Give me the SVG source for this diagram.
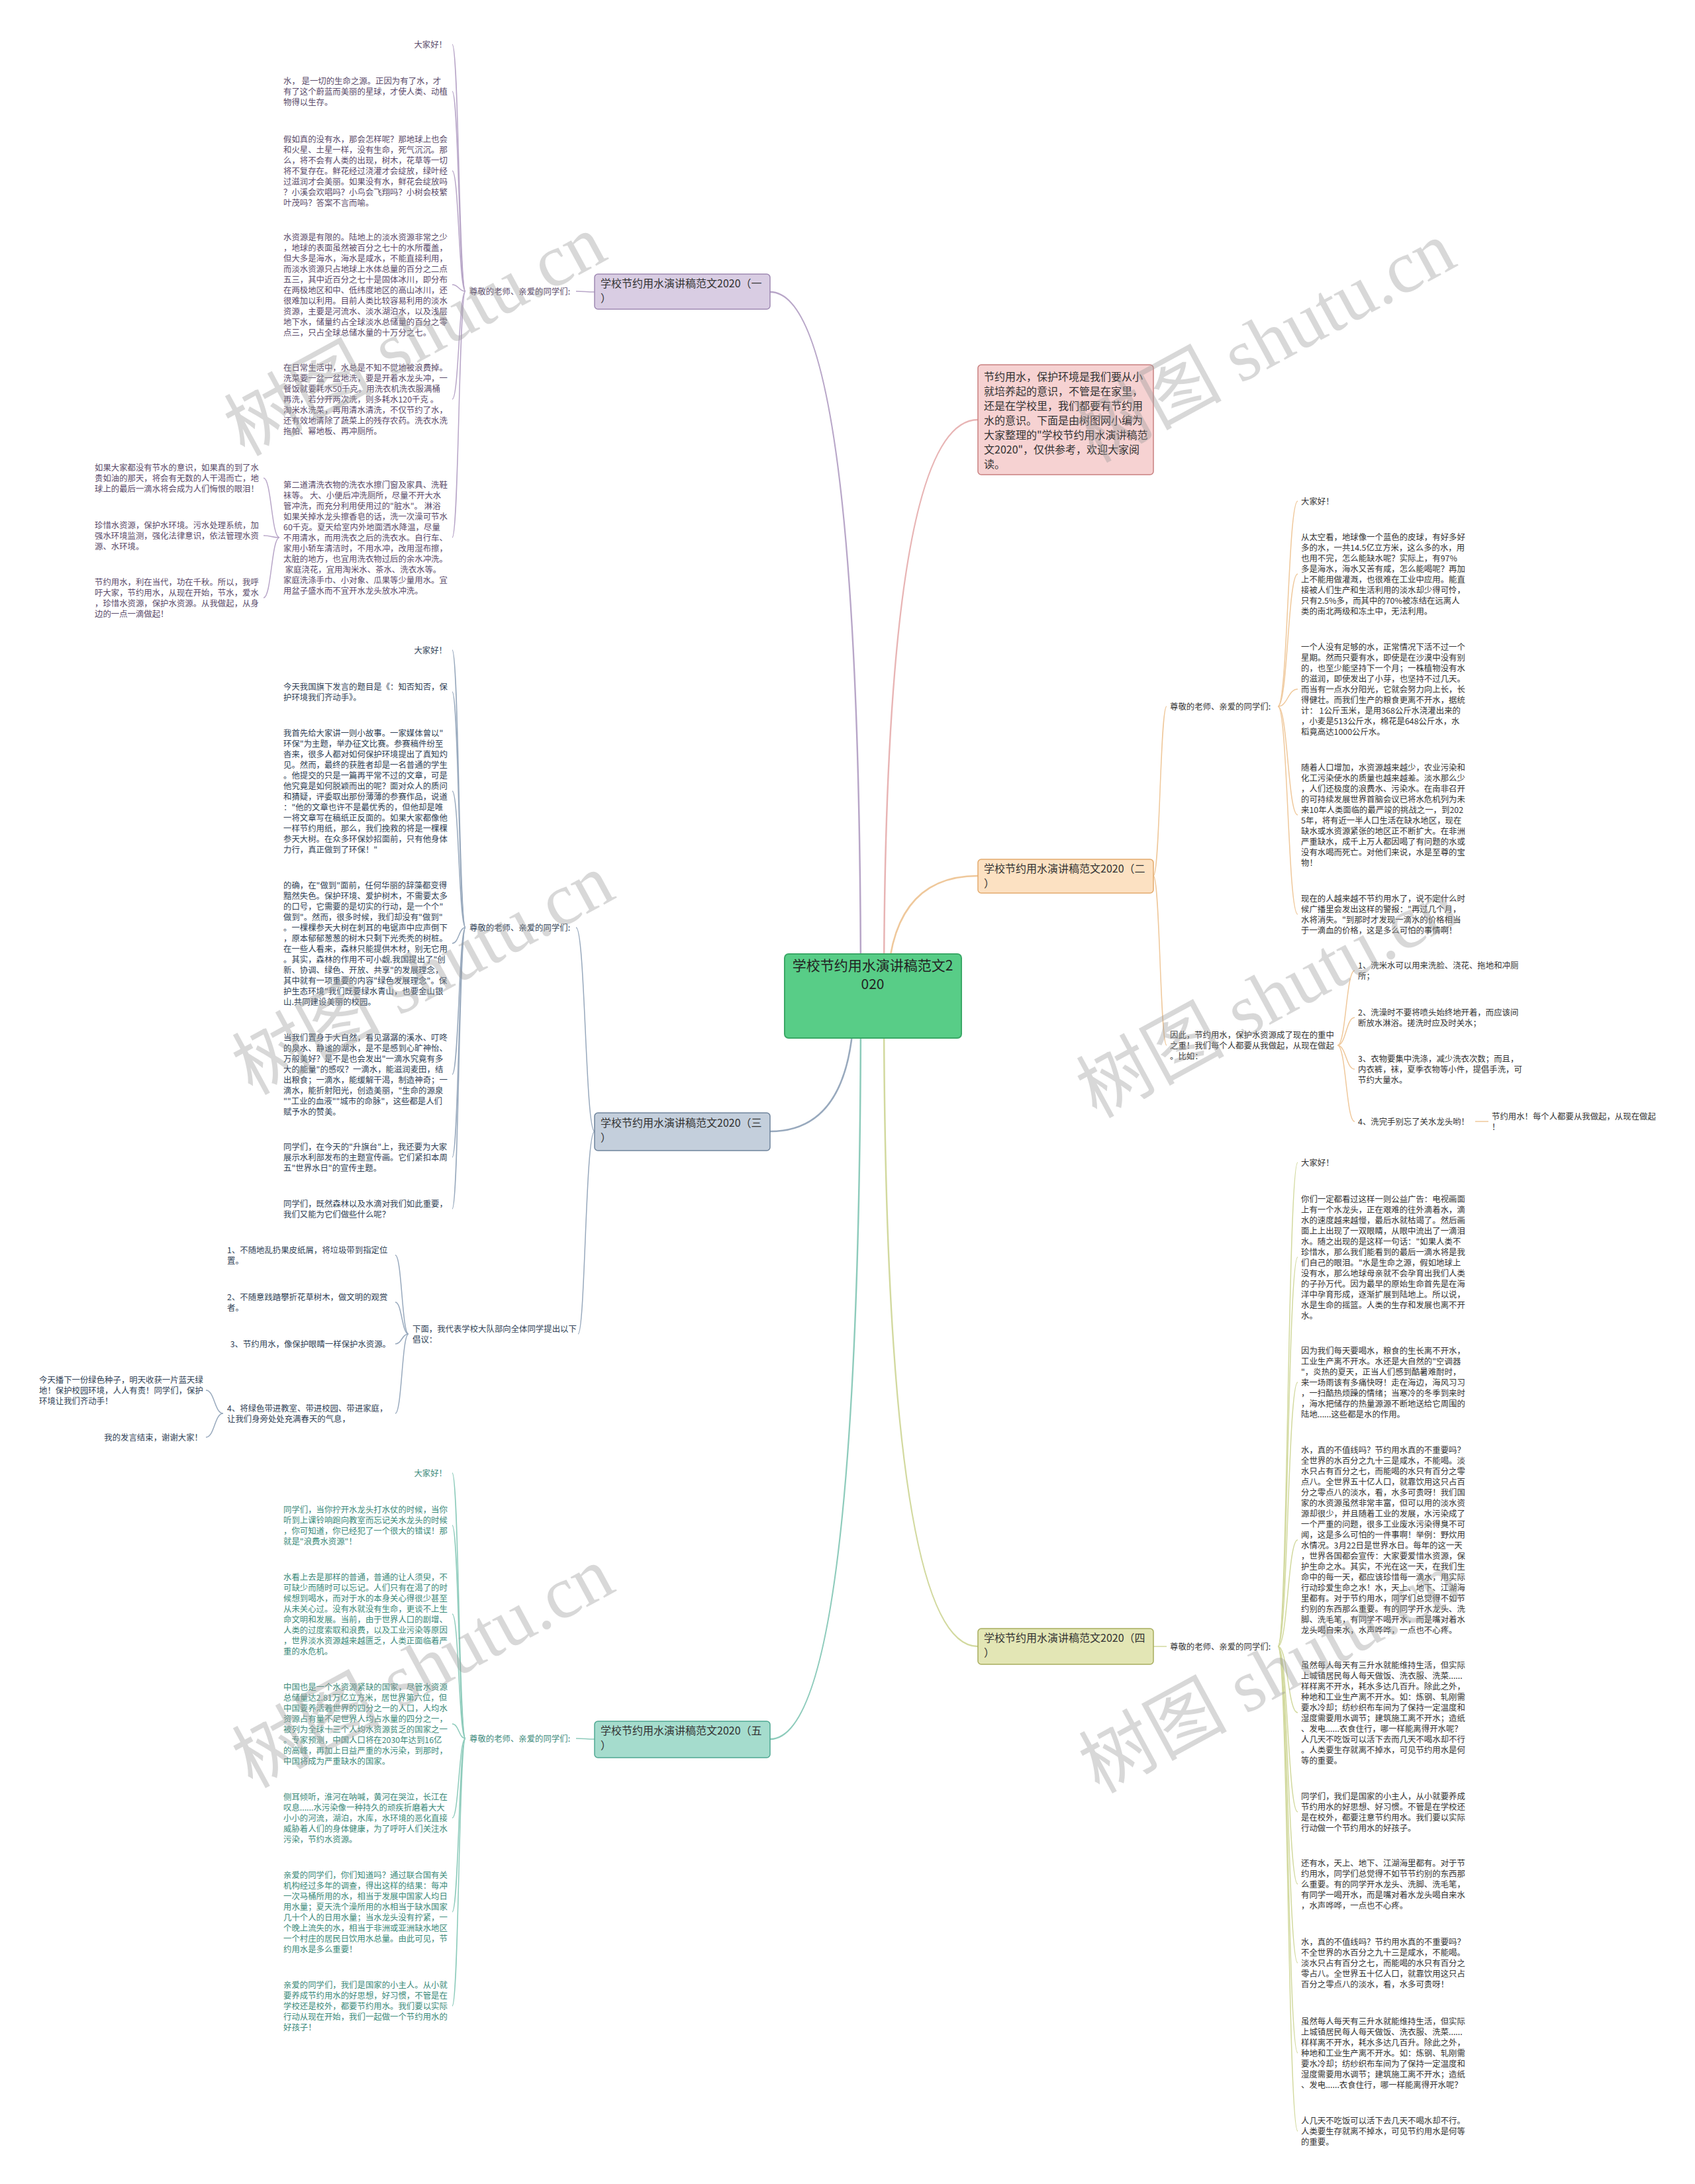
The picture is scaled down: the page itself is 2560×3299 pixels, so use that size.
<svg xmlns="http://www.w3.org/2000/svg" width="2560" height="3299" viewBox="0 0 2560 3299">
<style>
text{font-family:"Noto Sans CJK SC","Noto Sans",sans-serif}
.t{font-size:12.4px}
.k1{fill:#5a4a6a}.k2{fill:#333}.k3{fill:#2f3f56}.k4{fill:#333}.k5{fill:#3b8a7a}
.e{text-anchor:end}
path{fill:none;stroke-width:1.5}
.l0{stroke:#e8b4b4}.l1{stroke:#b8a6c8}.l2{stroke:#efc89b}.l3{stroke:#98a9bd}.l4{stroke:#d2d99e}.l5{stroke:#8dcbbb}
.rc{stroke-width:2.5}
.bn{font-size:16px;fill:#333}
.wm{font-family:"Liberation Serif","Noto Sans CJK SC",serif;font-size:112px;fill:#9a9a9a;opacity:.38}
</style>
<rect width="2560" height="3299" fill="#fff"/>
<g id="connectors">
<path class="l1 rc" d="M1300 1505 Q1300 441 1163 441"/>
<path class="l0 rc" d="M1335 1505 Q1335 634 1477 634"/>
<path class="l2 rc" d="M1340 1505 Q1340 1323 1477 1323"/>
<path class="l3 rc" d="M1290 1505 Q1290 1709 1163 1709"/>
<path class="l4 rc" d="M1335 1505 Q1335 2487 1477 2487"/>
<path class="l5 rc" d="M1300 1505 Q1300 2627 1163 2627"/>
<path class="l1" d="M898 441 C884 441 884 440 870 440"/>
<path class="l3" d="M898 1709 C884 1709 884 1401 870 1401"/>
<path class="l3" d="M898 1709 C884 1709 884 2015 873 2015"/>
<path class="l5" d="M898 2627 C884 2627 884 2626 870 2626"/>
<path class="l2" d="M1742 1323 C1752 1323 1752 1067 1762 1067"/>
<path class="l2" d="M1742 1323 C1752 1323 1752 1579 1762 1579"/>
<path class="l4" d="M1742 2487 L1762 2487"/>
<path class="l1" d="M703 440 C693 440 693 67 683 67"/>
<path class="l1" d="M703 440 C693 440 693 138 683 138"/>
<path class="l1" d="M703 440 C693 440 693 258 683 258"/>
<path class="l1" d="M703 440 C693 440 693 430 683 430"/>
<path class="l1" d="M703 440 C693 440 693 603 683 603"/>
<path class="l1" d="M703 440 C693 440 693 812 683 812"/>
<path class="l1" d="M422 812 C410 812 410 722 398 722"/>
<path class="l1" d="M422 812 C410 812 410 809 398 809"/>
<path class="l1" d="M422 812 C410 812 410 903 398 903"/>
<path class="l3" d="M703 1401 C693 1401 693 982 683 982"/>
<path class="l3" d="M703 1401 C693 1401 693 1045 683 1045"/>
<path class="l3" d="M703 1401 C693 1401 693 1195 683 1195"/>
<path class="l3" d="M703 1401 C693 1401 693 1425 683 1425"/>
<path class="l3" d="M703 1401 C693 1401 693 1623 683 1623"/>
<path class="l3" d="M703 1401 C693 1401 693 1748 683 1748"/>
<path class="l3" d="M703 1401 C693 1401 693 1826 683 1826"/>
<path class="l3" d="M617 2015 C607 2015 607 1896 597 1896"/>
<path class="l3" d="M617 2015 C607 2015 607 1967 597 1967"/>
<path class="l3" d="M617 2015 C607 2015 607 2030 597 2030"/>
<path class="l3" d="M617 2015 C607 2015 607 2135 597 2135"/>
<path class="l3" d="M337 2135 C324 2135 324 2100 311 2100"/>
<path class="l3" d="M337 2135 C324 2135 324 2171 311 2171"/>
<path class="l5" d="M703 2626 C693 2626 693 2225 683 2225"/>
<path class="l5" d="M703 2626 C693 2626 693 2304 683 2304"/>
<path class="l5" d="M703 2626 C693 2626 693 2438 683 2438"/>
<path class="l5" d="M703 2626 C693 2626 693 2604 683 2604"/>
<path class="l5" d="M703 2626 C693 2626 693 2746 683 2746"/>
<path class="l5" d="M703 2626 C693 2626 693 2888 683 2888"/>
<path class="l5" d="M703 2626 C693 2626 693 3030 683 3030"/>
<path class="l2" d="M1930 1067 C1945 1067 1945 757 1960 757"/>
<path class="l2" d="M1930 1067 C1945 1067 1945 867 1960 867"/>
<path class="l2" d="M1930 1067 C1945 1067 1945 1041 1960 1041"/>
<path class="l2" d="M1930 1067 C1945 1067 1945 1231 1960 1231"/>
<path class="l2" d="M1930 1067 C1945 1067 1945 1381 1960 1381"/>
<path class="l2" d="M2020 1579 C2033 1579 2033 1466 2046 1466"/>
<path class="l2" d="M2020 1579 C2033 1579 2033 1537 2046 1537"/>
<path class="l2" d="M2020 1579 C2033 1579 2033 1615 2046 1615"/>
<path class="l2" d="M2020 1579 C2033 1579 2033 1694 2046 1694"/>
<path class="l2" d="M2228 1694 L2248 1694"/>
<path class="l4" d="M1930 2487 C1945 2487 1945 1756 1960 1756"/>
<path class="l4" d="M1930 2487 C1945 2487 1945 1899 1960 1899"/>
<path class="l4" d="M1930 2487 C1945 2487 1945 2088 1960 2088"/>
<path class="l4" d="M1930 2487 C1945 2487 1945 2326 1960 2326"/>
<path class="l4" d="M1930 2487 C1945 2487 1945 2587 1960 2587"/>
<path class="l4" d="M1930 2487 C1945 2487 1945 2737 1960 2737"/>
<path class="l4" d="M1930 2487 C1945 2487 1945 2846 1960 2846"/>
<path class="l4" d="M1930 2487 C1945 2487 1945 2965 1960 2965"/>
<path class="l4" d="M1930 2487 C1945 2487 1945 3101 1960 3101"/>
<path class="l4" d="M1930 2487 C1945 2487 1945 3219 1960 3219"/>
</g>

<g id="root">
<rect x="1185" y="1441" width="267" height="127" rx="6" fill="#58cd87" stroke="#3aa866" stroke-width="2"/>
<text x="1318" y="1466" text-anchor="middle" font-size="21" fill="#222">学校节约用水演讲稿范文2</text>
<text x="1318" y="1494" text-anchor="middle" font-size="21" fill="#222">020</text>
</g>

<g id="intro">
<rect x="1477" y="551" width="265" height="166" rx="5" fill="#f6d2d2" stroke="#c98080" stroke-width="1.5"/>
<text class="bn"><tspan x="1486" y="575">节约用水，保护环境是我们要从小</tspan><tspan x="1486" dy="22">就培养起的意识，不管是在家里，</tspan><tspan x="1486" dy="22">还是在学校里，我们都要有节约用</tspan><tspan x="1486" dy="22">水的意识。下面是由树图网小编为</tspan><tspan x="1486" dy="22">大家整理的"学校节约用水演讲稿范</tspan><tspan x="1486" dy="22">文2020"，仅供参考，欢迎大家阅</tspan><tspan x="1486" dy="22">读。</tspan></text>
</g>

<g id="b1">
<rect x="898" y="414" width="265" height="53" rx="5" fill="#d9cde3" stroke="#9f89b3" stroke-width="1.5"/>
<text class="bn"><tspan x="907" y="434">学校节约用水演讲稿范文2020（一</tspan><tspan x="907" dy="22">）</tspan></text>
</g>
<g id="b2">
<rect x="1477" y="1298" width="265" height="51" rx="5" fill="#fce1c2" stroke="#e3aa6d" stroke-width="1.5"/>
<text class="bn"><tspan x="1486" y="1318">学校节约用水演讲稿范文2020（二</tspan><tspan x="1486" dy="22">）</tspan></text>
</g>
<g id="b3">
<rect x="898" y="1681" width="265" height="57" rx="5" fill="#c4cfdc" stroke="#6f849c" stroke-width="1.5"/>
<text class="bn"><tspan x="907" y="1702">学校节约用水演讲稿范文2020（三</tspan><tspan x="907" dy="22">）</tspan></text>
</g>
<g id="b4">
<rect x="1477" y="2460" width="265" height="54" rx="5" fill="#e3e6b5" stroke="#a8ad5e" stroke-width="1.5"/>
<text class="bn"><tspan x="1486" y="2480">学校节约用水演讲稿范文2020（四</tspan><tspan x="1486" dy="22">）</tspan></text>
</g>
<g id="b5">
<rect x="898" y="2600" width="265" height="55" rx="5" fill="#a5dccd" stroke="#4fa892" stroke-width="1.5"/>
<text class="bn"><tspan x="907" y="2620">学校节约用水演讲稿范文2020（五</tspan><tspan x="907" dy="22">）</tspan></text>
</g>

<g id="b1-label"><text class="t k1" x="709" y="444.5">尊敬的老师、亲爱的同学们:</text></g>
<g id="b1-n1"><text class="t k1 e" x="675" y="71.5">大家好！</text></g>
<g id="b1-n2"><text class="t k1"><tspan x="428" y="126.5">水， 是一切的生命之源。正因为有了水，才</tspan><tspan x="428" dy="16">有了这个蔚蓝而美丽的星球，才使人类、动植</tspan><tspan x="428" dy="16">物得以生存。</tspan></text></g>
<g id="b1-n3"><text class="t k1"><tspan x="428" y="214.5">假如真的没有水，那会怎样呢？那地球上也会</tspan><tspan x="428" dy="16">和火星、土星一样，没有生命，死气沉沉。那</tspan><tspan x="428" dy="16">么，将不会有人类的出现，树木，花草等一切</tspan><tspan x="428" dy="16">将不复存在。鲜花经过浇灌才会绽放，绿叶经</tspan><tspan x="428" dy="16">过滋润才会美丽。如果没有水，鲜花会绽放吗</tspan><tspan x="428" dy="16">？小溪会欢唱吗？小鸟会飞翔吗？小树会枝繁</tspan><tspan x="428" dy="16">叶茂吗？答案不言而喻。</tspan></text></g>
<g id="b1-n4"><text class="t k1"><tspan x="428" y="362.5">水资源是有限的。陆地上的淡水资源非常之少</tspan><tspan x="428" dy="16">，地球的表面虽然被百分之七十的水所覆盖，</tspan><tspan x="428" dy="16">但大多是海水，海水是咸水，不能直接利用，</tspan><tspan x="428" dy="16">而淡水资源只占地球上水体总量的百分之二点</tspan><tspan x="428" dy="16">五三，其中近百分之七十是固体冰川，即分布</tspan><tspan x="428" dy="16">在两极地区和中、低纬度地区的高山冰川，还</tspan><tspan x="428" dy="16">很难加以利用。目前人类比较容易利用的淡水</tspan><tspan x="428" dy="16">资源，主要是河流水、淡水湖泊水，以及浅层</tspan><tspan x="428" dy="16">地下水，储量约占全球淡水总储量的百分之零</tspan><tspan x="428" dy="16">点三，只占全球总储水量的十万分之七。</tspan></text></g>
<g id="b1-n5"><text class="t k1"><tspan x="428" y="559.5">在日常生活中，水总是不知不觉地被浪费掉。</tspan><tspan x="428" dy="16">洗菜要一盆一盆地洗，要是开着水龙头冲，一</tspan><tspan x="428" dy="16">餐饭就要耗水50千克。用洗衣机洗衣服满桶</tspan><tspan x="428" dy="16">再洗，若分开两次洗，则多耗水120千克 。</tspan><tspan x="428" dy="16">淘米水洗菜，再用清水清洗，不仅节约了水，</tspan><tspan x="428" dy="16">还有效地清除了蔬菜上的残存农药。洗衣水洗</tspan><tspan x="428" dy="16">拖帕、幂地板、再冲厕所。</tspan></text></g>
<g id="b1-n6"><text class="t k1"><tspan x="428" y="736.5">第二道清洗衣物的洗衣水擦门窗及家具、洗鞋</tspan><tspan x="428" dy="16">袜等。 大、小便后冲洗厕所，尽量不开大水</tspan><tspan x="428" dy="16">管冲洗，而充分利用使用过的"脏水"。 淋浴</tspan><tspan x="428" dy="16">如果关掉水龙头擦香皂的话，洗一次澡可节水</tspan><tspan x="428" dy="16">60千克。夏天给室内外地面洒水降温，尽量</tspan><tspan x="428" dy="16">不用清水，而用洗衣之后的洗衣水。自行车、</tspan><tspan x="428" dy="16">家用小轿车清洁时，不用水冲，改用湿布擦，</tspan><tspan x="428" dy="16">太脏的地方，也宜用洗衣物过后的余水冲洗。</tspan><tspan x="428" dy="16">&#160;家庭浇花，宜用淘米水、茶水、洗衣水等。</tspan><tspan x="428" dy="16">家庭洗涤手巾、小对象、瓜果等少量用水。宜</tspan><tspan x="428" dy="16">用盆子盛水而不宜开水龙头放水冲洗。</tspan></text></g>
<g id="b1-n6a"><text class="t k1"><tspan x="143" y="710.5">如果大家都没有节水的意识，如果真的到了水</tspan><tspan x="143" dy="16">贵如油的那天，将会有无数的人干渴而亡，地</tspan><tspan x="143" dy="16">球上的最后一滴水将会成为人们悔恨的眼泪！</tspan></text></g>
<g id="b1-n6b"><text class="t k1"><tspan x="143" y="797.5">珍惜水资源，保护水环境。污水处理系统，加</tspan><tspan x="143" dy="16">强水环境监测，强化法律意识，依法管理水资</tspan><tspan x="143" dy="16">源、水环境。</tspan></text></g>
<g id="b1-n6c"><text class="t k1"><tspan x="143" y="883.5">节约用水，利在当代，功在千秋。所以，我呼</tspan><tspan x="143" dy="16">吁大家，节约用水，从现在开始，节水，爱水</tspan><tspan x="143" dy="16">，珍惜水资源，保护水资源。从我做起，从身</tspan><tspan x="143" dy="16">边的一点一滴做起！</tspan></text></g>

<g id="b3-labelA"><text class="t k3" x="709" y="1405.5">尊敬的老师、亲爱的同学们:</text></g>
<g id="b3-n1"><text class="t k3 e" x="675" y="986.5">大家好！</text></g>
<g id="b3-n2"><text class="t k3"><tspan x="428" y="1041.5">今天我国旗下发言的题目是《：知否知否，保</tspan><tspan x="428" dy="16">护环境我们齐动手》。</tspan></text></g>
<g id="b3-n3"><text class="t k3"><tspan x="428" y="1111.5">我首先给大家讲一则小故事。一家媒体曾以"</tspan><tspan x="428" dy="16">环保"为主题，举办征文比赛。参赛稿件纷至</tspan><tspan x="428" dy="16">沓来，很多人都对如何保护环境提出了真知灼</tspan><tspan x="428" dy="16">见。然而，最终的获胜者却是一名普通的学生</tspan><tspan x="428" dy="16">。他提交的只是一篇再平常不过的文章，可是</tspan><tspan x="428" dy="16">他究竟是如何脱颖而出的呢？面对众人的质问</tspan><tspan x="428" dy="16">和猜疑，评委取出那份薄薄的参赛作品，说道</tspan><tspan x="428" dy="16">："他的文章也许不是最优秀的，但他却是唯</tspan><tspan x="428" dy="16">一将文章写在稿纸正反面的。如果大家都像他</tspan><tspan x="428" dy="16">一样节约用纸，那么，我们挽救的将是一棵棵</tspan><tspan x="428" dy="16">参天大树。在众多环保妙招面前，只有他身体</tspan><tspan x="428" dy="16">力行，真正做到了环保！"</tspan></text></g>
<g id="b3-n4"><text class="t k3"><tspan x="428" y="1341.5">的确，在"做到"面前，任何华丽的辞藻都变得</tspan><tspan x="428" dy="16">黯然失色。保护环境、爱护树木，不需要太多</tspan><tspan x="428" dy="16">的口号，它需要的是切实的行动，是一个个"</tspan><tspan x="428" dy="16">做到"。然而，很多时候，我们却没有"做到"</tspan><tspan x="428" dy="16">。一棵棵参天大树在刺耳的电锯声中应声倒下</tspan><tspan x="428" dy="16">，原本郁郁葱葱的树木只剩下光秃秃的树桩。</tspan><tspan x="428" dy="16">在一些人看来，森林只能提供木材，别无它用</tspan><tspan x="428" dy="16">。其实，森林的作用不可小觑.我国提出了"创</tspan><tspan x="428" dy="16">新、协调、绿色、开放、共享"的发展理念，</tspan><tspan x="428" dy="16">其中就有一项重要的内容"绿色发展理念"。保</tspan><tspan x="428" dy="16">护生态环境"我们既要绿水青山，也要金山银</tspan><tspan x="428" dy="16">山.共同建设美丽的校园。</tspan></text></g>
<g id="b3-n5"><text class="t k3"><tspan x="428" y="1571.5">当我们置身于大自然，看见潺潺的溪水、叮咚</tspan><tspan x="428" dy="16">的泉水、静谧的湖水，是不是感到心旷神怡、</tspan><tspan x="428" dy="16">万般美好？是不是也会发出"一滴水究竟有多</tspan><tspan x="428" dy="16">大的能量"的感叹？一滴水，能滋润麦田，结</tspan><tspan x="428" dy="16">出粮食；一滴水，能缓解干渴，制造神奇；一</tspan><tspan x="428" dy="16">滴水，能折射阳光，创造美丽，"生命的源泉</tspan><tspan x="428" dy="16">""工业的血液""城市的命脉"，这些都是人们</tspan><tspan x="428" dy="16">赋予水的赞美。</tspan></text></g>
<g id="b3-n6"><text class="t k3"><tspan x="428" y="1736.5">同学们，在今天的"升旗台"上，我还要为大家</tspan><tspan x="428" dy="16">展示水利部发布的主题宣传画。它们紧扣本周</tspan><tspan x="428" dy="16">五"世界水日"的宣传主题。</tspan></text></g>
<g id="b3-n7"><text class="t k3"><tspan x="428" y="1822.5">同学们，既然森林以及水滴对我们如此重要，</tspan><tspan x="428" dy="16">我们又能为它们做些什么呢？</tspan></text></g>
<g id="b3-labelB"><text class="t k3"><tspan x="623" y="2011.5">下面，我代表学校大队部向全体同学提出以下</tspan><tspan x="623" dy="16">倡议：</tspan></text></g>
<g id="b3-c1"><text class="t k3"><tspan x="343" y="1892.5">1、不随地乱扔果皮纸屑，将垃圾带到指定位</tspan><tspan x="343" dy="16">置。</tspan></text></g>
<g id="b3-c2"><text class="t k3"><tspan x="343" y="1963.5">2、不随意践踏攀折花草树木，做文明的观赏</tspan><tspan x="343" dy="16">者。</tspan></text></g>
<g id="b3-c3"><text class="t k3 e" x="590" y="2034.5">3、节约用水，像保护眼睛一样保护水资源。</text></g>
<g id="b3-c4"><text class="t k3"><tspan x="343" y="2131.5">4、将绿色带进教室、带进校园、带进家庭，</tspan><tspan x="343" dy="16">让我们身旁处处充满春天的气息，</tspan></text></g>
<g id="b3-d1"><text class="t k3"><tspan x="59" y="2088.5">今天播下一份绿色种子，明天收获一片蓝天绿</tspan><tspan x="59" dy="16">地！保护校园环境，人人有责！同学们，保护</tspan><tspan x="59" dy="16">环境让我们齐动手！</tspan></text></g>
<g id="b3-d2"><text class="t k3 e" x="306" y="2175.5">我的发言结束，谢谢大家！</text></g>

<g id="b5-label"><text class="t k5" x="709" y="2630.5">尊敬的老师、亲爱的同学们:</text></g>
<g id="b5-n1"><text class="t k5 e" x="675" y="2229.5">大家好！</text></g>
<g id="b5-n2"><text class="t k5"><tspan x="428" y="2284.5">同学们，当你拧开水龙头打水仗的时候，当你</tspan><tspan x="428" dy="16">听到上课铃响跑向教室而忘记关水龙头的时候</tspan><tspan x="428" dy="16">，你可知道，你已经犯了一个很大的错误！那</tspan><tspan x="428" dy="16">就是"浪费水资源"！</tspan></text></g>
<g id="b5-n3"><text class="t k5"><tspan x="428" y="2386.5">水看上去是那样的普通，普通的让人须臾，不</tspan><tspan x="428" dy="16">可缺少而随时可以忘记。人们只有在渴了的时</tspan><tspan x="428" dy="16">候想到喝水，而对于水的本身关心得很少甚至</tspan><tspan x="428" dy="16">从未关心过。没有水就没有生命，更谈不上生</tspan><tspan x="428" dy="16">命文明和发展。当前，由于世界人口的剧增、</tspan><tspan x="428" dy="16">人类的过度索取和浪费，以及工业污染等原因</tspan><tspan x="428" dy="16">，世界淡水资源越来越匮乏，人类正面临着严</tspan><tspan x="428" dy="16">重的水危机。</tspan></text></g>
<g id="b5-n4"><text class="t k5"><tspan x="428" y="2552.5">中国也是一个水资源紧缺的国家，尽管水资源</tspan><tspan x="428" dy="16">总储量达2.81万亿立方米，居世界第六位，但</tspan><tspan x="428" dy="16">中国要养活着世界的四分之一的人口，人均水</tspan><tspan x="428" dy="16">资源占有量不足世界人均占水量的四分之一，</tspan><tspan x="428" dy="16">被列为全球十三个人均水资源贫乏的国家之一</tspan><tspan x="428" dy="16">。专家预测，中国人口将在2030年达到16亿</tspan><tspan x="428" dy="16">的高峰，再加上日益严重的水污染，到那时，</tspan><tspan x="428" dy="16">中国将成为严重缺水的国家。</tspan></text></g>
<g id="b5-n5"><text class="t k5"><tspan x="428" y="2718.5">侧耳倾听，淮河在呐喊，黄河在哭泣，长江在</tspan><tspan x="428" dy="16">叹息......水污染像一种持久的顽疾折磨着大大</tspan><tspan x="428" dy="16">小小的河流，湖泊，水库，水环境的恶化直接</tspan><tspan x="428" dy="16">威胁着人们的身体健康，为了呼吁人们关注水</tspan><tspan x="428" dy="16">污染，节约水资源。</tspan></text></g>
<g id="b5-n6"><text class="t k5"><tspan x="428" y="2836.5">亲爱的同学们，你们知道吗？通过联合国有关</tspan><tspan x="428" dy="16">机构经过多年的调查，得出这样的结果：每冲</tspan><tspan x="428" dy="16">一次马桶所用的水，相当于发展中国家人均日</tspan><tspan x="428" dy="16">用水量；夏天洗个澡所用的水相当于缺水国家</tspan><tspan x="428" dy="16">几十个人的日用水量；当水龙头没有拧紧，一</tspan><tspan x="428" dy="16">个晚上流失的水，相当于非洲或亚洲缺水地区</tspan><tspan x="428" dy="16">一个村庄的居民日饮用水总量。由此可见，节</tspan><tspan x="428" dy="16">约用水是多么重要！</tspan></text></g>
<g id="b5-n7"><text class="t k5"><tspan x="428" y="3002.5">亲爱的同学们，我们是国家的小主人。从小就</tspan><tspan x="428" dy="16">要养成节约用水的好思想，好习惯，不管是在</tspan><tspan x="428" dy="16">学校还是校外，都要节约用水。我们要以实际</tspan><tspan x="428" dy="16">行动从现在开始，我们一起做一个节约用水的</tspan><tspan x="428" dy="16">好孩子！</tspan></text></g>

<g id="b2-label1"><text class="t k2" x="1767" y="1071.5">尊敬的老师、亲爱的同学们:</text></g>
<g id="b2-n1"><text class="t k2" x="1965" y="761.5">大家好！</text></g>
<g id="b2-n2"><text class="t k2"><tspan x="1965" y="815.5">从太空看，地球像一个蓝色的皮球，有好多好</tspan><tspan x="1965" dy="16">多的水，一共14.5亿立方米，这么多的水，用</tspan><tspan x="1965" dy="16">也用不完，怎么能缺水呢？实际上，有97%</tspan><tspan x="1965" dy="16">多是海水，海水又苦有咸，怎么能喝呢？再加</tspan><tspan x="1965" dy="16">上不能用做灌溉，也很难在工业中应用。能直</tspan><tspan x="1965" dy="16">接被人们生产和生活利用的淡水却少得可怜，</tspan><tspan x="1965" dy="16">只有2.5%多，而其中的70%被冻结在远离人</tspan><tspan x="1965" dy="16">类的南北两级和冻土中，无法利用。</tspan></text></g>
<g id="b2-n3"><text class="t k2"><tspan x="1965" y="981.5">一个人没有足够的水，正常情况下活不过一个</tspan><tspan x="1965" dy="16">星期。然而只要有水，即使是在沙漠中没有别</tspan><tspan x="1965" dy="16">的，也至少能坚持下一个月；一株植物没有水</tspan><tspan x="1965" dy="16">的滋润，即使发出了小芽，也坚持不过几天。</tspan><tspan x="1965" dy="16">而当有一点水分阳光，它就会努力向上长，长</tspan><tspan x="1965" dy="16">得健壮。而我们生产的粮食更离不开水，据统</tspan><tspan x="1965" dy="16">计： 1公斤玉米，是用368公斤水浇灌出来的</tspan><tspan x="1965" dy="16">，小麦是513公斤水，棉花是648公斤水，水</tspan><tspan x="1965" dy="16">稻竟高达1000公斤水。</tspan></text></g>
<g id="b2-n4"><text class="t k2"><tspan x="1965" y="1163.5">随着人口增加，水资源越来越少，农业污染和</tspan><tspan x="1965" dy="16">化工污染使水的质量也越来越差。淡水那么少</tspan><tspan x="1965" dy="16">，人们还极度的浪费水、污染水。在南非召开</tspan><tspan x="1965" dy="16">的可持续发展世界首脑会议已将水危机列为未</tspan><tspan x="1965" dy="16">来10年人类面临的最严竣的挑战之一，到202</tspan><tspan x="1965" dy="16">5年，将有近一半人口生活在缺水地区，现在</tspan><tspan x="1965" dy="16">缺水或水资源紧张的地区正不断扩大。在非洲</tspan><tspan x="1965" dy="16">严重缺水，成千上万人都因喝了有问题的水或</tspan><tspan x="1965" dy="16">没有水喝而死亡。对他们来说，水是至尊的宝</tspan><tspan x="1965" dy="16">物！</tspan></text></g>
<g id="b2-n5"><text class="t k2"><tspan x="1965" y="1361.5">现在的人越来越不节约用水了，说不定什么时</tspan><tspan x="1965" dy="16">候广播里会发出这样的警报："再过几个月，</tspan><tspan x="1965" dy="16">水将消失。"到那时才发现一滴水的价格相当</tspan><tspan x="1965" dy="16">于一滴血的价格，这是多么可怕的事情啊！</tspan></text></g>
<g id="b2-label2"><text class="t k2"><tspan x="1767" y="1567.5">因此，节约用水，保护水资源成了现在的重中</tspan><tspan x="1767" dy="16">之重！我们每个人都要从我做起，从现在做起</tspan><tspan x="1767" dy="16">。比如：</tspan></text></g>
<g id="b2-g1"><text class="t k2"><tspan x="2051" y="1462.5">1、洗米水可以用来洗脸、浇花、拖地和冲厕</tspan><tspan x="2051" dy="16">所；</tspan></text></g>
<g id="b2-g2"><text class="t k2"><tspan x="2051" y="1533.5">2、洗澡时不要将喷头始终地开着，而应该间</tspan><tspan x="2051" dy="16">断放水淋浴。搓洗时应及时关水；</tspan></text></g>
<g id="b2-g3"><text class="t k2"><tspan x="2051" y="1603.5">3、衣物要集中洗涤，减少洗衣次数；而且，</tspan><tspan x="2051" dy="16">内衣裤，袜，夏季衣物等小件，提倡手洗，可</tspan><tspan x="2051" dy="16">节约大量水。</tspan></text></g>
<g id="b2-g4"><text class="t k2" x="2051" y="1698.5">4、洗完手别忘了关水龙头哟！</text></g>
<g id="b2-h"><text class="t k2"><tspan x="2253" y="1690.5">节约用水！每个人都要从我做起，从现在做起</tspan><tspan x="2253" dy="16">！</tspan></text></g>

<g id="b4-label"><text class="t k4" x="1767" y="2491.5">尊敬的老师、亲爱的同学们:</text></g>
<g id="b4-n1"><text class="t k4" x="1965" y="1760.5">大家好！</text></g>
<g id="b4-n2"><text class="t k4"><tspan x="1965" y="1815.5">你们一定都看过这样一则公益广告：电视画面</tspan><tspan x="1965" dy="16">上有一个水龙头，正在艰难的往外滴着水，滴</tspan><tspan x="1965" dy="16">水的速度越来越慢，最后水就枯竭了。然后画</tspan><tspan x="1965" dy="16">面上上出现了一双眼睛，从眼中流出了一滴泪</tspan><tspan x="1965" dy="16">水。随之出现的是这样一句话："如果人类不</tspan><tspan x="1965" dy="16">珍惜水，那么我们能看到的最后一滴水将是我</tspan><tspan x="1965" dy="16">们自己的眼泪。"水是生命之源，假如地球上</tspan><tspan x="1965" dy="16">没有水，那么地球母亲就不会孕育出我们人类</tspan><tspan x="1965" dy="16">的子孙万代。因为最早的原始生命首先是在海</tspan><tspan x="1965" dy="16">洋中孕育形成，逐渐扩展到陆地上。所以说，</tspan><tspan x="1965" dy="16">水是生命的摇篮。人类的生存和发展也离不开</tspan><tspan x="1965" dy="16">水。</tspan></text></g>
<g id="b4-n3"><text class="t k4"><tspan x="1965" y="2044.5">因为我们每天要喝水，粮食的生长离不开水，</tspan><tspan x="1965" dy="16">工业生产离不开水。水还是大自然的"空调器</tspan><tspan x="1965" dy="16">"，炎热的夏天，正当人们感到酷暑难耐时，</tspan><tspan x="1965" dy="16">来一场雨该有多痛快呀！走在海边，海风习习</tspan><tspan x="1965" dy="16">，一扫酷热烦躁的情绪；当寒冷的冬季到来时</tspan><tspan x="1965" dy="16">，海水把储存的热量源源不断地送给它周围的</tspan><tspan x="1965" dy="16">陆地......这些都是水的作用。</tspan></text></g>
<g id="b4-n4"><text class="t k4"><tspan x="1965" y="2194.5">水，真的不值线吗？节约用水真的不重要吗？</tspan><tspan x="1965" dy="16">全世界的水百分之九十三是咸水，不能喝。淡</tspan><tspan x="1965" dy="16">水只占有百分之七，而能喝的水只有百分之零</tspan><tspan x="1965" dy="16">点八。全世界五十亿人口，就靠饮用这只占百</tspan><tspan x="1965" dy="16">分之零点八的淡水，看，水多可贵呀！我们国</tspan><tspan x="1965" dy="16">家的水资源虽然非常丰富，但可以用的淡水资</tspan><tspan x="1965" dy="16">源却很少，并且随着工业的发展，水污染成了</tspan><tspan x="1965" dy="16">一个严重的问题，很多工业废水污染得臭不可</tspan><tspan x="1965" dy="16">闻，这是多么可怕的一件事啊！举例：野炊用</tspan><tspan x="1965" dy="16">水情况。3月22日是世界水日。每年的这一天</tspan><tspan x="1965" dy="16">，世界各国都会宣传：大家要爱惜水资源，保</tspan><tspan x="1965" dy="16">护生命之水。其实，不光在这一天，在我们生</tspan><tspan x="1965" dy="16">命中的每一天，都应该珍惜每一滴水，用实际</tspan><tspan x="1965" dy="16">行动珍爱生命之水！水，天上、地下、江湖海</tspan><tspan x="1965" dy="16">里都有。对于节约用水，同学们总觉得不如节</tspan><tspan x="1965" dy="16">约别的东西那么重要。有的同学开水龙头、洗</tspan><tspan x="1965" dy="16">脚、洗毛笔，有同学不喝开水，而是嘴对着水</tspan><tspan x="1965" dy="16">龙头喝自来水，水声哗哗，一点也不心疼。</tspan></text></g>
<g id="b4-n5"><text class="t k4"><tspan x="1965" y="2519.5">虽然每人每天有三升水就能维持生活，但实际</tspan><tspan x="1965" dy="16">上城镇居民每人每天做饭、洗衣服、洗菜......</tspan><tspan x="1965" dy="16">样样离不开水，耗水多达几百升。除此之外，</tspan><tspan x="1965" dy="16">种地和工业生产离不开水。如：炼钢、轧刚需</tspan><tspan x="1965" dy="16">要水冷却；纺纱织布车间为了保持一定温度和</tspan><tspan x="1965" dy="16">湿度需要用水调节；建筑施工离不开水；造纸</tspan><tspan x="1965" dy="16">、发电......衣食住行，哪一样能离得开水呢？</tspan><tspan x="1965" dy="16">人几天不吃饭可以活下去而几天不喝水却不行</tspan><tspan x="1965" dy="16">。人类要生存就离不掉水，可见节约用水是何</tspan><tspan x="1965" dy="16">等的重要。</tspan></text></g>
<g id="b4-n6"><text class="t k4"><tspan x="1965" y="2717.5">同学们，我们是国家的小主人，从小就要养成</tspan><tspan x="1965" dy="16">节约用水的好思想、好习惯。不管是在学校还</tspan><tspan x="1965" dy="16">是在校外，都要注意节约用水。我们要以实际</tspan><tspan x="1965" dy="16">行动做一个节约用水的好孩子。</tspan></text></g>
<g id="b4-n7"><text class="t k4"><tspan x="1965" y="2818.5">还有水，天上、地下、江湖海里都有。对于节</tspan><tspan x="1965" dy="16">约用水，同学们总觉得不如节节约别的东西那</tspan><tspan x="1965" dy="16">么重要。有的同学开水龙头、洗脚、洗毛笔，</tspan><tspan x="1965" dy="16">有同学一喝开水，而是嘴对着水龙头喝自来水</tspan><tspan x="1965" dy="16">，水声哗哗，一点也不心疼。</tspan></text></g>
<g id="b4-n8"><text class="t k4"><tspan x="1965" y="2937.5">水，真的不值线吗？节约用水真的不重要吗？</tspan><tspan x="1965" dy="16">不全世界的水百分之九十三是咸水，不能喝。</tspan><tspan x="1965" dy="16">淡水只占有百分之七，而能喝的水只有百分之</tspan><tspan x="1965" dy="16">零占八。全世界五十亿人口，就靠饮用这只占</tspan><tspan x="1965" dy="16">百分之零点八的淡水，看，水多可贵呀！</tspan></text></g>
<g id="b4-n9"><text class="t k4"><tspan x="1965" y="3057.5">虽然每人每天有三升水就能维持生活，但实际</tspan><tspan x="1965" dy="16">上城镇居民每人每天做饭、洗衣服、洗菜......</tspan><tspan x="1965" dy="16">样样离不开水，耗水多达几百升。除此之外，</tspan><tspan x="1965" dy="16">种地和工业生产离不开水。如：炼钢、轧刚需</tspan><tspan x="1965" dy="16">要水冷却；纺纱织布车间为了保持一定温度和</tspan><tspan x="1965" dy="16">湿度需要用水调节；建筑施工离不开水；造纸</tspan><tspan x="1965" dy="16">、发电......衣食住行，哪一样能离得开水呢？</tspan></text></g>
<g id="b4-n10"><text class="t k4"><tspan x="1965" y="3207.5">人几天不吃饭可以活下去几天不喝水却不行。</tspan><tspan x="1965" dy="16">人类要生存就离不掉水，可见节约用水是何等</tspan><tspan x="1965" dy="16">的重要。</tspan></text></g>

<g id="watermarks">
<text class="wm" text-anchor="middle" transform="translate(645 540) rotate(-28.5)">树图 shutu.cn</text>
<text class="wm" text-anchor="middle" transform="translate(1928 550) rotate(-28.5)">树图 shutu.cn</text>
<text class="wm" text-anchor="middle" transform="translate(657 1505) rotate(-28.5)">树图 shutu.cn</text>
<text class="wm" text-anchor="middle" transform="translate(1932 1540) rotate(-28.5)">树图 shutu.cn</text>
<text class="wm" text-anchor="middle" transform="translate(657 2552) rotate(-28.5)">树图 shutu.cn</text>
<text class="wm" text-anchor="middle" transform="translate(1936 2560) rotate(-28.5)">树图 shutu.cn</text>
</g>
</svg>
